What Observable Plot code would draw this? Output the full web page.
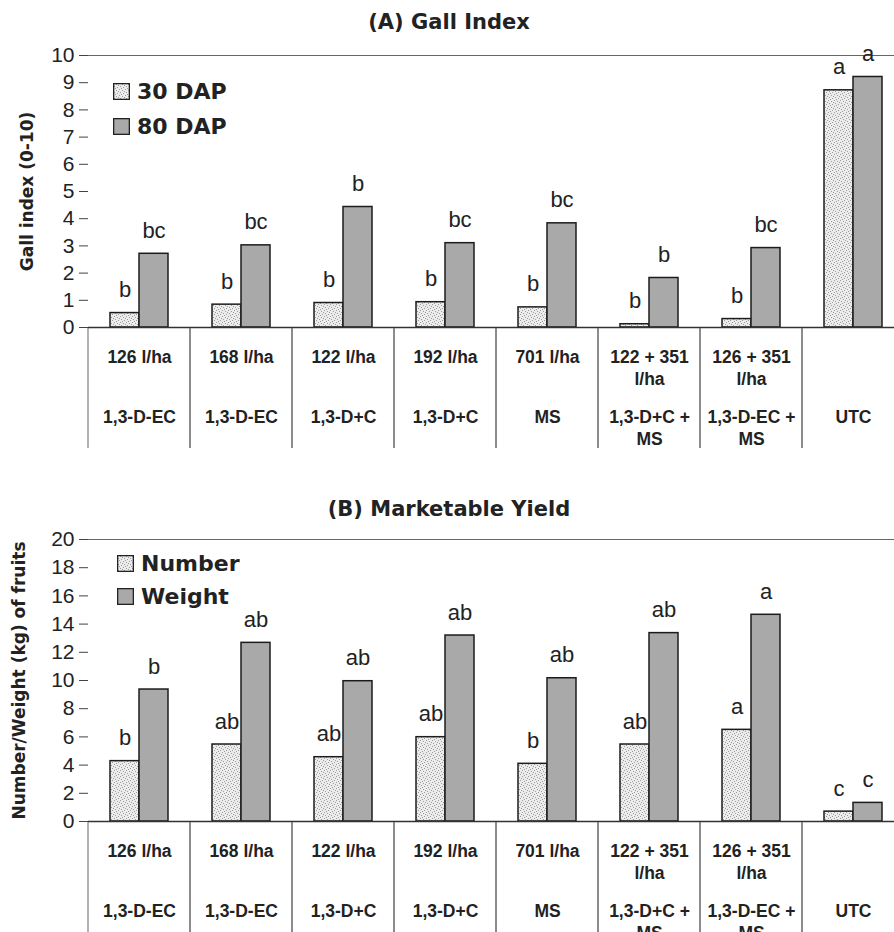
<!DOCTYPE html>
<html>
<head>
<meta charset="utf-8">
<script src="https://cdn.jsdelivr.net/npm/d3@7"></script>
<script src="https://cdn.jsdelivr.net/npm/@observablehq/plot@0.6"></script>
<style>
  html, body { margin: 0; padding: 0; background: #fff; overflow: hidden; }
  #wrap { position: relative; width: 894px; height: 932px; overflow: hidden; color: #222; }
  .title { font-family: "DejaVu Sans", sans-serif; font-weight: bold; font-size: 21px; color: #222;
           text-align: center; width: 898px; white-space: nowrap; }
  #titleA { height: 40px; line-height: 44px; }
  #titleB { height: 31px; line-height: 32px; margin-top: 45px; }
  g[aria-label="y-axis label"] text { font-family: "DejaVu Sans", sans-serif; font-weight: bold; font-size: 17px; }
  .legbox { position: absolute; width: 220px; }
  .legbox [class$="-swatches"] { margin: 0 !important; }
  .legbox [class$="-swatch"] { padding: 0 !important; margin: 0 !important; }
  .lga-swatch { height: 35px; }
  .lgb-swatch { height: 33px; }
  .legbox [class$="-swatch"] svg { margin-right: 7px !important; overflow: hidden; }
  .legbox [class$="-swatch"] svg rect { stroke: #222; stroke-width: 2.6; }
</style>
</head>
<body>
<svg width="0" height="0" style="position:absolute">
  <defs>
    <pattern id="stipple" patternUnits="userSpaceOnUse" width="6" height="6">
      <rect width="6" height="6" fill="#ececec"></rect>
      <path d="M0 0h1v1H0z M3 1h1v1H3z M1 3h1v1H1z M4 4h1v1H4z M2 5h1v1H2z M5 2h1v1H5z" fill="#9c9c9c"></path>
    </pattern>
  </defs>
</svg>
<div id="wrap"></div>
<script>
// ---------- data ----------
const doses = ["126 l/ha", "168 l/ha", "122 l/ha", "192 l/ha", "701 l/ha", "122 + 351\nl/ha", "126 + 351\nl/ha", ""];
const products = ["1,3-D-EC", "1,3-D-EC", "1,3-D+C", "1,3-D+C", "MS", "1,3-D+C +\nMS", "1,3-D-EC +\nMS", "UTC"];
const categories = doses.map((d, i) => (d + " " + products[i]).trim());

const gallSeries = ["30 DAP", "80 DAP"];
const gall30 = [0.53, 0.84, 0.90, 0.93, 0.74, 0.12, 0.31, 8.72];
const gall80 = [2.71, 3.02, 4.43, 3.10, 3.83, 1.82, 2.92, 9.21];
const gall30Letters = ["b", "b", "b", "b", "b", "b", "b", "a"];
const gall80Letters = ["bc", "bc", "b", "bc", "bc", "b", "bc", "a"];
const gallTicks = [0, 1, 2, 3, 4, 5, 6, 7, 8, 9, 10];

const yieldSeries = ["Number", "Weight"];
const yieldNumber = [4.28, 5.46, 4.56, 5.98, 4.09, 5.46, 6.50, 0.70];
const yieldWeight = [9.36, 12.67, 9.95, 13.19, 10.16, 13.36, 14.66, 1.32];
const numberLetters = ["b", "ab", "ab", "ab", "b", "ab", "a", "c"];
const weightLetters = ["b", "ab", "ab", "ab", "ab", "ab", "a", "c"];
const yieldTicks = [0, 2, 4, 6, 8, 10, 12, 14, 16, 18, 20];

const fills = ["url(#stipple)", "#a9a9a9"];

// ---------- helpers ----------
function panel({series, values, letters, yMax, ticks, yLabel, plotH, labelOffset}) {
  const data = [];
  categories.forEach((c, i) => series.forEach((s, j) =>
    data.push({cat: c, series: s, value: values[j][i], letter: letters[j][i]})));
  return Plot.plot({
    width: 904, height: 15 + plotH + 1,
    marginLeft: 88, marginRight: 0, marginTop: 15, marginBottom: 1,
    style: {maxWidth: "none", overflow: "visible", fontFamily: "'Liberation Sans', Arial, sans-serif", color: "#222", background: "transparent"},
    fx: {domain: categories, padding: 0, axis: null, label: null},
    x: {domain: series, paddingInner: 0, paddingOuter: 0.73, axis: null},
    y: {domain: [0, yMax], axis: null},
    color: {domain: series, range: fills},
    marks: [
      Plot.ruleY([yMax], {stroke: "#666", strokeWidth: 1}),
      Plot.barY(data, {fx: "cat", x: "series", y: "value", fill: "series", stroke: "#1c1c1c", strokeWidth: 1.5}),
      Plot.ruleY([0], {stroke: "#333", strokeWidth: 1.5}),
      Plot.axisY({ticks, tickSize: 9, tickPadding: 5, fontSize: 21, line: true, stroke: "#444",
                  label: yLabel, labelAnchor: "center", labelOffset, labelArrow: "none"}),
      Plot.text(data, {fx: "cat", x: "series", y: "value", text: "letter", lineAnchor: "bottom",
                       dy: -16, fontSize: 22, fill: "#222"})
    ]
  });
}

function table(h) {
  const rows = categories.map((c, i) => ({cat: c, dose: doses[i], product: products[i]}));
  return Plot.plot({
    width: 904, height: h, marginLeft: 88, marginRight: 0, marginTop: 0, marginBottom: 0,
    style: {maxWidth: "none", overflow: "hidden", fontFamily: "'Liberation Sans', Arial, sans-serif", color: "#222", background: "transparent"},
    x: {domain: categories, padding: 0, axis: null},
    marks: [
      Plot.cell(rows, {x: "cat", fill: "none", stroke: "#666", strokeWidth: 1, insetTop: -6, insetBottom: -6}),
      Plot.text(rows, {x: "cat", text: "dose", frameAnchor: "top", lineAnchor: "top", dy: 18.7,
                       fontSize: 17.5, fontWeight: "bold", lineHeight: 1.257, fill: "#222"}),
      Plot.text(rows, {x: "cat", text: "product", frameAnchor: "top", lineAnchor: "top", dy: 78.7,
                       fontSize: 17.5, fontWeight: "bold", lineHeight: 1.257, fill: "#222"})
    ]
  });
}

function legend(series, cls, top, left) {
  const box = document.createElement("div");
  box.className = "legbox";
  box.style.top = top + "px";
  box.style.left = left + "px";
  box.append(Plot.legend({
    color: {domain: series, range: fills, type: "ordinal"},
    legend: "swatches", columns: 1, swatchSize: 17, className: cls,
    style: {fontFamily: "'DejaVu Sans', sans-serif", fontWeight: "bold", fontSize: "22px", color: "#222"}
  }));
  return box;
}

// ---------- build ----------
const wrap = document.getElementById("wrap");

const tA = document.createElement("div");
tA.className = "title"; tA.id = "titleA"; tA.textContent = "(A) Gall Index";
wrap.append(tA);
wrap.append(panel({series: gallSeries, values: [gall30, gall80], letters: [gall30Letters, gall80Letters],
                   yMax: 10, ticks: gallTicks, yLabel: "Gall index (0-10)", plotH: 272, labelOffset: 68}));
wrap.append(table(120));

const tB = document.createElement("div");
tB.className = "title"; tB.id = "titleB"; tB.textContent = "(B) Marketable Yield";
wrap.append(tB);
wrap.append(panel({series: yieldSeries, values: [yieldNumber, yieldWeight], letters: [numberLetters, weightLetters],
                   yMax: 20, ticks: yieldTicks, yLabel: "Number/Weight (kg) of fruits", plotH: 282, labelOffset: 76}));
wrap.append(table(115));

wrap.append(legend(gallSeries, "lga", 74, 113));
wrap.append(legend(yieldSeries, "lgb", 547, 117));

for (const svg of wrap.querySelectorAll(":scope > svg")) svg.style.display = "block";
</script>
</body>
</html>
